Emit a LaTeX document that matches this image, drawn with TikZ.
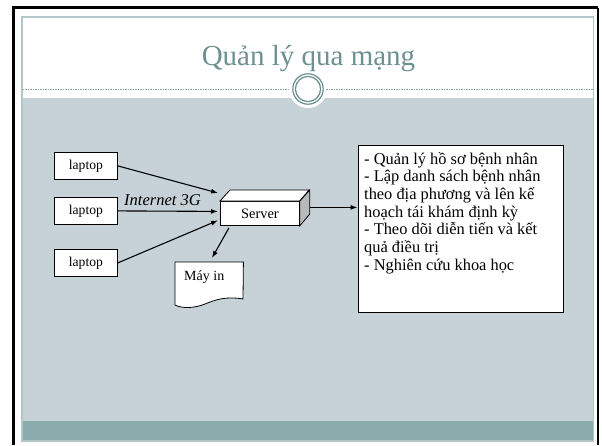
\documentclass[tikz,border=0pt]{standalone}
\usepackage{fontspec}
\setmainfont{Liberation Serif}
\usetikzlibrary{arrows.meta,calc}
\definecolor{slidebg}{HTML}{C6D2D8}
\definecolor{slidestrip}{HTML}{8AACAC}
\definecolor{slideline}{HTML}{B2C6C8}
\definecolor{titlecol}{HTML}{6E9090}
\definecolor{ringcol}{HTML}{6A8E8E}
\definecolor{dashcol}{HTML}{8FA6A6}
\tikzset{
  laptopbox/.style={draw=black, line width=0.8pt, fill=white, minimum width=63pt,
    minimum height=27pt, inner sep=0pt, anchor=north west,
    font=\fontsize{13.6}{16}\selectfont},
  arr/.style={line width=1.1pt, -{Latex[length=7pt,width=5pt]}},
  thinbox/.style={draw=black, line width=0.8pt, fill=white},
}
\begin{document}
\begin{tikzpicture}[x=1pt,y=-1pt]
\useasboundingbox (0,0) rectangle (602,445);
\fill[white] (0,0) rectangle (602,445);
% slide background
\fill[slidebg] (22,98) rectangle (593,421);
\fill[slidestrip] (22,421) rectangle (593,440.5);
\draw[slideline, line width=1.5pt] (21.8,16.8) rectangle (593.5,441);
% outer black frame
\draw[line width=3pt] (13.5,445) -- (13.5,7.5) -- (598.2,7.5);
\draw[line width=2.5pt] (598,7.5) -- (598,445);
% title decoration
\fill[white] (308,89) circle (19);
\draw[dashcol, line width=0.8pt, dash pattern=on 1.5pt off 1pt] (22.5,89) -- (290,89);
\draw[dashcol, line width=0.8pt, dash pattern=on 1.5pt off 1pt] (326,89) -- (593,89);
\draw[ringcol, line width=1.2pt, fill=white] (308,89) circle (15.2);
\draw[ringcol, line width=1.2pt] (308,89) circle (12.6);
\node[anchor=base, inner sep=0, text=titlecol, font=\fontsize{29}{34}\selectfont] (title) at (308.5,65) {Quản lý qua mạng};
% laptops
\node[laptopbox] (l1) at (54,152) {laptop};
\node[laptopbox] (l2) at (54,197) {laptop};
\node[laptopbox] (l3) at (54,249) {laptop};
% server (3D box)
\node[thinbox, anchor=north west, minimum width=79pt, minimum height=24pt, inner sep=0pt,
  font=\fontsize{14.4}{17}\selectfont] (server) at (220,201) {Server};
\draw[thinbox] (server.north west) -- ++(10,-11) -- ++(79,0) -- (server.north east) -- cycle;
\draw[draw=black, line width=0.8pt, fill=gray!55] (server.north east) -- ++(10,-11) -- ++(0,24) -- (server.south east) -- cycle;
% label
\node[anchor=base, inner sep=0, font=\itshape\fontsize{16.5}{19}\selectfont] (inet) at (162.5,205) {Internet 3G};
% printer (document shape)
\node[anchor=north west, minimum width=68pt, minimum height=44pt, inner sep=0] (printer) at (175,262) {};
\draw[thinbox] (printer.north west) -- (printer.north east) -- (243,299)
  .. controls (225,296) and (215,300) .. (205,304)
  .. controls (195,308) and (183,309) .. (175,305) -- cycle;
\node[anchor=base west, inner sep=0, font=\fontsize{14}{17}\selectfont] (printerlabel) at (184,280) {Máy in};
% info box
\node[thinbox, anchor=north west, minimum width=205.5pt, minimum height=167pt, inner sep=0] (info) at (357.5,145) {};
\node[anchor=base west, inner sep=0, font=\fontsize{16.4}{17.7}\selectfont] (infotext) at (364,164)
  {\parbox[t]{195pt}{\lineskiplimit=-10pt\raggedright - Quản lý hồ sơ bệnh nhân\\- Lập danh sách bệnh nhân\\theo địa phương và lên kế\\hoạch tái khám định kỳ\\- Theo dõi diễn tiến và kết\\quả điều trị\\- Nghiên cứu khoa học}};
% connectors
\draw[arr] (l1.east) -- ([xshift=-2pt,yshift=8pt]server.north west);
\draw[arr] (l2.east) -- ([xshift=-2pt,yshift=2pt]server.west);
\draw[arr] (l3.east) -- ([xshift=-2pt,yshift=-7pt]server.west);
\draw[arr] ([xshift=9pt,yshift=-2pt]server.south west) -- ([xshift=37pt,yshift=4pt]printer.north west);
\coordinate (sout) at ([xshift=10pt,yshift=6pt]server.east);
\draw[arr] (sout) -- (sout -| info.west);
\end{tikzpicture}
\end{document}
